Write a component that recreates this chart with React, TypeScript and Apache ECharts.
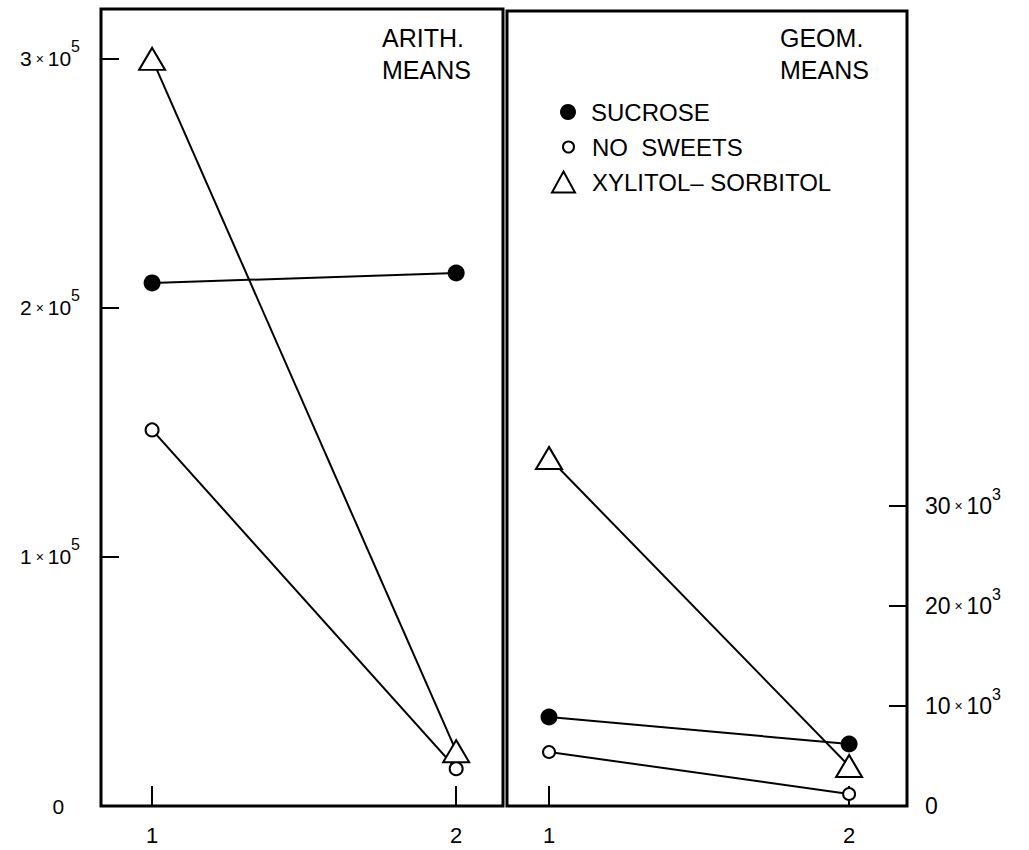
import React, { useEffect, useRef } from 'react';
import * as echarts from 'echarts';

const days = [1, 2];
const arithSucrose = [210000, 214000];
const arithNoSweets = [151000, 15000];
const arithXylitol = [300000, 22000];
const geomSucrose = [8900, 6200];
const geomNoSweets = [5400, 1200];
const geomXylitol = [34800, 4000];
const arithTicks = [0, 100000, 200000, 300000];
const geomTicks = [0, 10000, 20000, 30000];
const dayTicks = [1, 2];
const names = ['SUCROSE', 'NO  SWEETS', 'XYLITOL\u2013 SORBITOL'];

const FONT = 'Liberation Sans';

const pts = (vals: number[]) => days.map((d, i) => [d, vals[i]]);

export default function App() {
  const ref = useRef<HTMLDivElement>(null);
  useEffect(() => {
    if (!ref.current) return;
    const chart = echarts.init(ref.current, null, { renderer: 'svg' });
    const line = { color: '#000', width: 2 };
    const filled = { symbol: 'circle', symbolSize: 17, itemStyle: { color: '#000' } };
    const open = (s: number) => ({ symbol: 'circle', symbolSize: s, itemStyle: { color: '#fff', borderColor: '#000', borderWidth: 2 } });
    const tri = { symbol: 'triangle', symbolSize: [26, 22], itemStyle: { color: '#fff', borderColor: '#000', borderWidth: 2 } };
    const mkRich = (nSize: number) => ({
      n: { fontSize: nSize, fontFamily: FONT, color: '#000', lineHeight: 40 },
      x: { fontSize: 14, fontFamily: FONT, color: '#000', lineHeight: 40 },
      s: { fontSize: 16, fontFamily: FONT, color: '#000', verticalAlign: 'top', lineHeight: 16 },
    });
    const xAxisBase = (grid: number, min: number, max: number) => ({
      type: 'value', gridIndex: grid, min, max,
      axisLine: { show: false }, splitLine: { show: false },
      axisTick: { show: true, inside: true, length: 20, customValues: dayTicks, lineStyle: { color: '#000', width: 2 } },
      axisLabel: { customValues: dayTicks, margin: 18, fontSize: 22, fontFamily: FONT, color: '#000' },
    });
    const legendBase = (name: string, icon: string, left: number, top: number, w: number, h: number, pad: number, itemStyle: any) => ({
      data: [{ name, icon, itemStyle }],
      orient: 'vertical', left, top, padding: 0, itemWidth: w, itemHeight: h,
      selectedMode: false,
      textStyle: { fontSize: 24, fontFamily: FONT, color: '#000', lineHeight: 24, padding: [0, 0, 0, pad] },
    });
    chart.setOption({
      animation: false,
      backgroundColor: '#fff',
      textStyle: { fontFamily: FONT },
      grid: [
        { left: 101, top: 9, width: 402, height: 797, show: true, borderColor: '#000', borderWidth: 3, backgroundColor: 'transparent', containLabel: false, outerBoundsMode: 'none' },
        { left: 507, top: 11, width: 400, height: 795, show: true, borderColor: '#000', borderWidth: 3, backgroundColor: 'transparent', containLabel: false, outerBoundsMode: 'none' },
      ],
      xAxis: [xAxisBase(0, 0.832, 2.154), xAxisBase(1, 0.86, 2.193)],
      yAxis: [
        {
          type: 'value', gridIndex: 0, min: 0, max: 320000, position: 'left',
          axisLine: { show: false }, splitLine: { show: false },
          axisTick: { show: true, inside: true, length: 18, customValues: arithTicks, lineStyle: { color: '#000', width: 2 } },
          axisLabel: {
            customValues: arithTicks, margin: 21, fontSize: 21, fontFamily: FONT, color: '#000',
            formatter: (v: number) => (v === 0 ? '0\u2007\u2009' : `{n|${v / 100000}}{x| \u00d7 }{n|10}{s|5}`),
            rich: mkRich(21),
          },
        },
        {
          type: 'value', gridIndex: 1, min: 0, max: 79500, position: 'right',
          axisLine: { show: false }, splitLine: { show: false },
          axisTick: { show: true, inside: true, length: 18, customValues: geomTicks.filter((t) => t > 0), lineStyle: { color: '#000', width: 2 } },
          axisLabel: {
            customValues: geomTicks, margin: 18, fontSize: 23, fontFamily: FONT, color: '#000',
            formatter: (v: number) => (v === 0 ? '0' : `{n|${v / 1000}}{x| \u00d7 }{n|10}{s|3}`),
            rich: mkRich(23),
          },
        },
      ],
      legend: [
        legendBase(names[0], 'circle', 560, 100, 16, 16, 10, { color: '#000', borderWidth: 0 }),
        legendBase(names[1], 'circle', 562, 135, 11, 11, 13, { color: '#fff', borderColor: '#000', borderWidth: 2 }),
        legendBase(names[2], 'triangle', 551, 170, 23, 21, 12, { color: '#fff', borderColor: '#000', borderWidth: 2 }),
      ],
      graphic: [
        { type: 'text', x: 382, y: 22, style: { text: 'ARITH.\nMEANS', fontSize: 25, fontFamily: FONT, fill: '#000', lineHeight: 32 } },
        { type: 'text', x: 780, y: 22, style: { text: 'GEOM.\nMEANS', fontSize: 25, fontFamily: FONT, fill: '#000', lineHeight: 32 } },
      ],
      series: [
        { name: names[0], type: 'line', xAxisIndex: 0, yAxisIndex: 0, data: pts(arithSucrose), lineStyle: line, ...filled },
        { name: names[1], type: 'line', xAxisIndex: 0, yAxisIndex: 0, data: pts(arithNoSweets), lineStyle: line, ...open(13) },
        { name: names[2], type: 'line', xAxisIndex: 0, yAxisIndex: 0, data: pts(arithXylitol), lineStyle: line, ...tri },
        { name: names[0], type: 'line', xAxisIndex: 1, yAxisIndex: 1, data: pts(geomSucrose), lineStyle: line, ...filled },
        { name: names[1], type: 'line', xAxisIndex: 1, yAxisIndex: 1, data: pts(geomNoSweets), lineStyle: line, ...open(12) },
        { name: names[2], type: 'line', xAxisIndex: 1, yAxisIndex: 1, data: pts(geomXylitol), lineStyle: line, ...tri },
      ],
    });
    return () => chart.dispose();
  }, []);
  return <div ref={ref} style={{ position: 'absolute', left: 0, top: 0, width: 1029, height: 850 }} />;
}
